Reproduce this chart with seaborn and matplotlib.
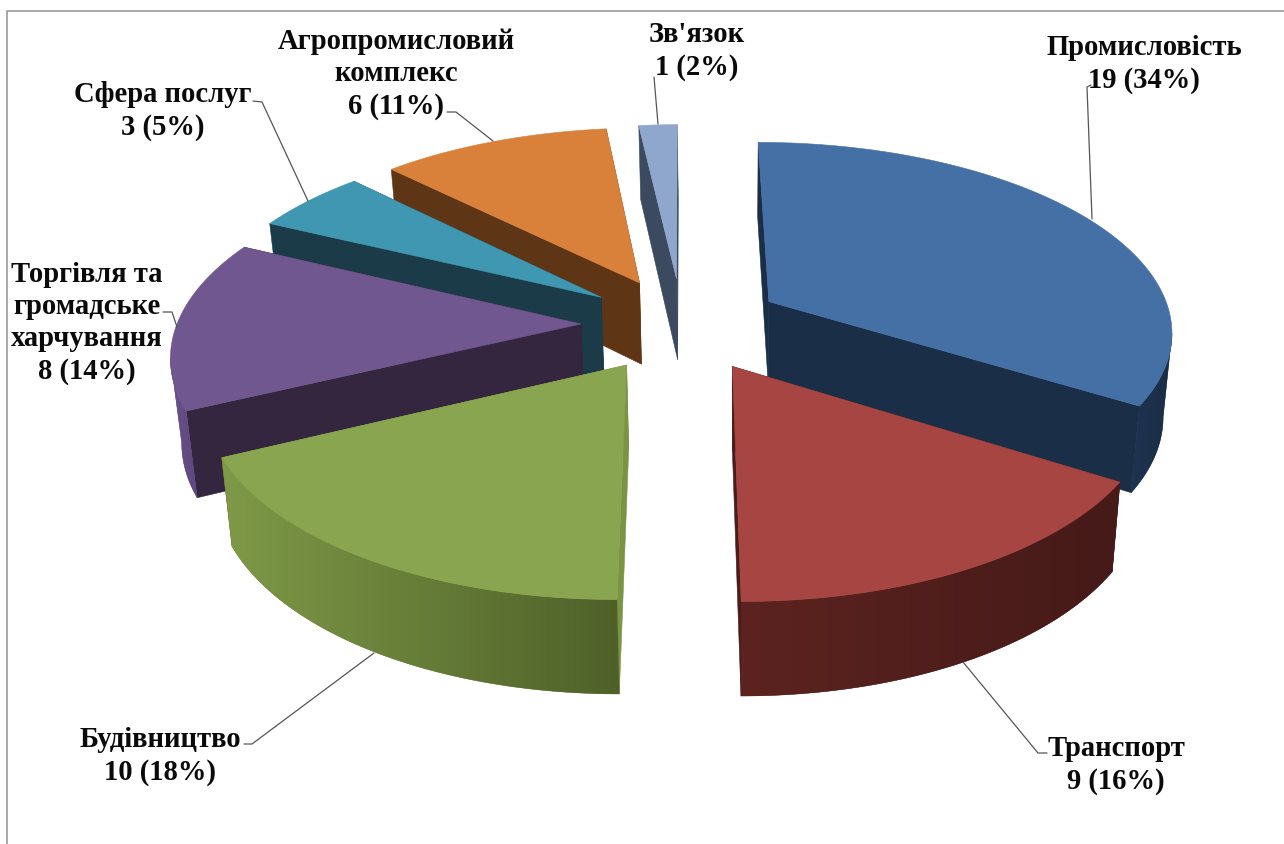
import numpy as np
import matplotlib
matplotlib.use("Agg")
import matplotlib.pyplot as plt
from matplotlib.patches import Polygon
import seaborn as sns

# ---- data (clockwise from 12 o'clock) ----
categories = ["Промисловість", "Транспорт", "Будівництво",
              "Торгівля та\nгромадське\nхарчування", "Сфера послуг",
              "Агропромисловий\nкомплекс", "Зв'язок"]
values = [19, 9, 10, 8, 3, 6, 1]
percents = [34, 16, 18, 14, 5, 11, 2]

# ---- styles ----
top_colors = ["#4470A5", "#A64541", "#8AA54F", "#715790", "#3F97B1", "#D9813A", "#8FA7CD"]
cut_colors = ["#1B2E47", "#4A1C19", "#7A9444", "#34263F", "#1A3B47", "#5F3615", "#3B4A5F"]
rim_right = ["#1B2E47", "#451A18", "#4F6129", "#5E4880", "#1A3B47", "#5F3615", "#3B4A5F"]
rim_left = ["#1D3350", "#5C2320", "#7E9947", "#6A5189", "#1A3B47", "#5F3615", "#3B4A5F"]

label_xy = [(1144, 64), (1116, 765), (160, 756), (87, 323), (163, 111), (396, 74), (697, 51)]
leaders = [
    [(1091, 86), (1087, 88), (1092, 220)],
    [(1047, 754), (1038, 754), (963, 663)],
    [(244, 745), (252, 745), (374, 654)],
    [(163, 313), (172, 313), (177, 328)],
    [(253, 102), (262, 103), (308, 202)],
    [(447, 113), (456, 113), (493, 142)],
    [(654, 78), (658, 125)],
]

# ---- projection of the exploded 3-D pie ----
CX, CY, RX, RY, K = 682.0, 325.0, 404.0, 188.0, 0.143
EXPLODE, H, K2 = 0.25, 83.0, 0.10


def project(X, Y, bottom=False):
    X, Y = np.asarray(X, float), np.asarray(Y, float)
    d = 1 + K * Y
    x = CX + RX * X / d
    y = CY - RY * Y / d
    if bottom:
        x = CX + (x - CX) * 0.98 + 1
        y = y + H / (1 + K2 * Y)
    return x, y


sns.set_theme(style="white")
plt.rcParams["font.family"] = ["Liberation Serif", "DejaVu Serif"]

fig = plt.figure(figsize=(12.84, 8.45), dpi=100, facecolor="white")
ax = fig.add_axes([0, 0, 1, 1])

# chart frame
ax.plot([7, 7, 1284], [845, 12, 12], color="#9A9A9A", lw=1.2, solid_capstyle="butt")

fractions = np.array(values, float) / np.sum(values)
edges = np.concatenate([[0], np.cumsum(fractions)]) * 2 * np.pi
mids = (edges[:-1] + edges[1:]) / 2
apex_X = EXPLODE * np.sin(mids)
apex_Y = EXPLODE * np.cos(mids)


def poly(xs, ys, color, z, lw=0.4):
    ax.fill(xs, ys, facecolor=color, edgecolor=color, lw=lw, zorder=z, joinstyle="round")


order = np.argsort(-apex_Y)
for rank, i in enumerate(order):
    z = 2 + rank * 4
    th = np.linspace(edges[i], edges[i + 1], 160)
    rx = apex_X[i] + np.sin(th)
    ry = apex_Y[i] + np.cos(th)
    tx, ty = project(rx, ry)
    bx, by = project(rx, ry, bottom=True)
    ax_t, ay_t = project(apex_X[i], apex_Y[i])
    ax_b, ay_b = project(apex_X[i], apex_Y[i], bottom=True)

    # cut faces
    for e in (0, -1):
        poly([ax_t, tx[e], bx[e], ax_b], [ay_t, ty[e], by[e], ay_b], cut_colors[i], z)

    # outer rim: only the arc that faces the viewer (screen x falls with the angle),
    # filled with a horizontal gradient clipped to the wall outline
    facing = np.nonzero(np.diff(tx) < 0)[0]
    if facing.size:
        a, b = facing[0], facing[-1] + 2
        wall_x = np.r_[tx[a:b], bx[a:b][::-1]]
        wall_y = np.r_[ty[a:b], by[a:b][::-1]]
        shades = np.array(sns.blend_palette([rim_left[i], rim_right[i]], 64))[None, :, :3]
        poly(wall_x, wall_y, shades[0, 32], z + 1, lw=0.3)
        image = ax.imshow(shades, extent=(wall_x.min(), wall_x.max(), wall_y.max(), wall_y.min()),
                          aspect="auto", interpolation="bilinear", zorder=z + 2)
        image.set_clip_path(Polygon(np.c_[wall_x, wall_y], closed=True, transform=ax.transData))

    # top face
    poly(np.r_[ax_t, tx], np.r_[ay_t, ty], top_colors[i], z + 3)

# labels
for name, v, p, (lx, ly), pts in zip(categories, values, percents, label_xy, leaders):
    xs, ys = zip(*pts)
    ax.plot(xs, ys, color="#555555", lw=0.9, zorder=60)
    ax.text(lx, ly, f"{name}\n{v} ({p}%)", ha="center", va="center", multialignment="center",
            fontsize=20.6, fontweight="bold", color="#0A0A0A", linespacing=1.25, zorder=70)

ax.set_xlim(0, 1284)
ax.set_ylim(845, 0)
ax.set_aspect("auto")
ax.axis("off")

fig.savefig("out.png", dpi=100)
